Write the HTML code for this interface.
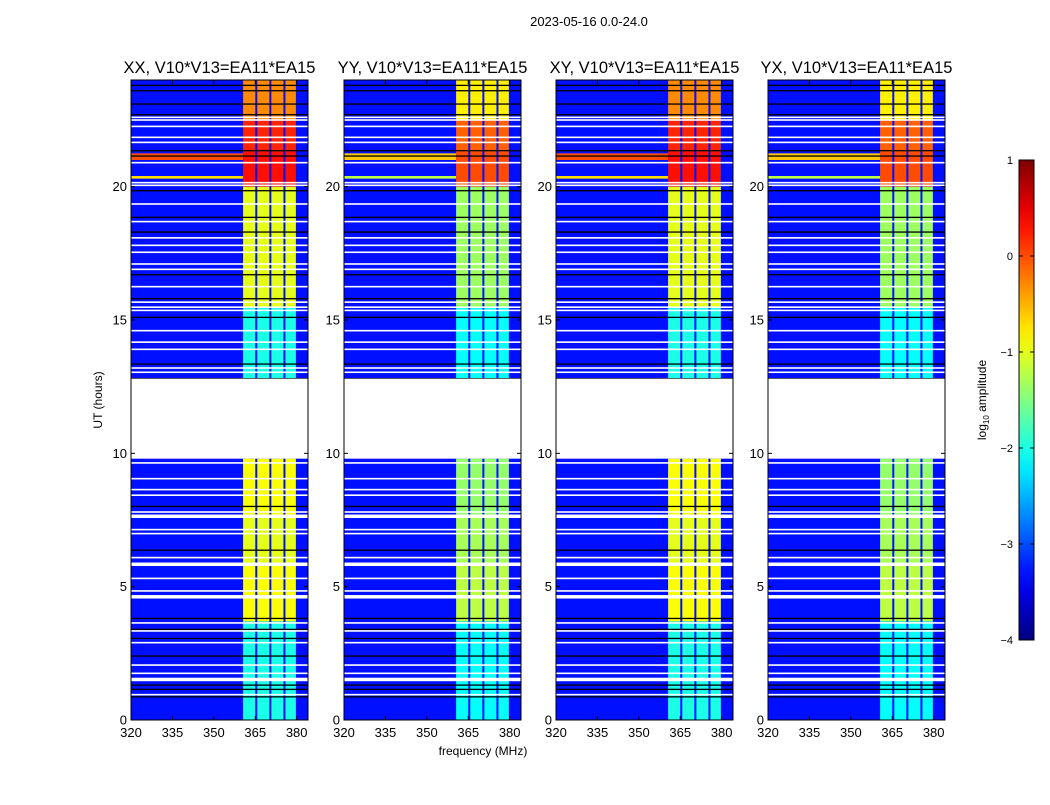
<!DOCTYPE html>
<html><head><meta charset="utf-8">
<style>
body{margin:0;background:#fff;}
svg text{font-family:"Liberation Sans","DejaVu Sans",sans-serif;fill:#000;}
</style></head>
<body>
<svg id="fig" width="1050" height="800" viewBox="0 0 1050 800" xmlns="http://www.w3.org/2000/svg">
<rect width="1050" height="800" fill="#fff"/>
<text x="589" y="26" font-size="13" text-anchor="middle">2023-05-16 0.0-24.0</text>
<text x="483" y="755" font-size="12" text-anchor="middle">frequency (MHz)</text>
<text transform="translate(102,400) rotate(-90)" font-size="12" text-anchor="middle">UT (hours)</text>
<g id="panels"></g>
<g id="cbar"></g>
</svg>
<script>
// ---- data ----
const panelTitles = ["XX, V10*V13=EA11*EA15","YY, V10*V13=EA11*EA15","XY, V10*V13=EA11*EA15","YX, V10*V13=EA11*EA15"];
const backgroundLevel = -3.3;
const subBandEdges = [360.6, 365.3, 370.4, 375.5, 380.0];
const blockStart = [0.0, 3.7, 5.9, 7.7, 12.8, 15.5, 20.0, 21.3, 22.5];
const blockEnd   = [3.7, 5.9, 7.7, 9.8, 15.5, 20.0, 21.3, 22.5, 24.0];
const levelsXX = [-2.0, -0.9, -1.0, -0.9, -2.0, -1.0, 0.3, 0.2, -0.3];
const levelsYY = [-2.1, -1.2, -1.3, -1.4, -2.1, -1.35, 0.0, -0.1, -0.8];
const levelsXY = [-2.0, -0.9, -1.0, -0.9, -2.0, -1.0, 0.3, 0.2, -0.3];
const levelsYX = [-2.1, -1.2, -1.3, -1.4, -2.1, -1.35, 0.0, -0.1, -0.8];
const panelLevels = [levelsXX, levelsYY, levelsXY, levelsYX];
const stripeStart = [21.0, 20.3];
const stripeEnd   = [21.25, 20.4];
const stripeLevelsXX = [0.0, -0.7];
const stripeLevelsYY = [-0.6, -1.2];
const stripeLevelsXY = [0.0, -0.7];
const stripeLevelsYX = [-0.6, -1.2];
const stripeLevels = [stripeLevelsXX, stripeLevelsYY, stripeLevelsXY, stripeLevelsYX];
const whiteLines = [0.95,1.52,1.75,2.06,2.9,3.34,3.64,4.62,4.84,5.31,5.84,6.09,6.99,7.14,7.64,7.8,8.43,8.64,9.05,9.64,
  13.04,13.2,13.9,14.17,14.6,15.36,15.48,15.67,16.25,16.9,17.1,17.54,17.8,18.08,18.69,19.35,20.05,20.15,20.9,21.66,21.85,22.26,22.5,22.6];
const thickWhite = [1.52,4.62,5.84,7.64,20.1];
const blackLines = [0.87,1.15,1.31,2.4,3.06,3.4,3.81,6.37,8.01,12.8,13.35,15.1,15.8,16.7,18.3,18.85,19.85,21.15,21.35,22.7,23.1,23.6,23.8];
const gapStart = 9.8, gapEnd = 12.8;
const xTicks = [320,335,350,365,380];
const yTicks = [0,5,10,15,20];
const cbarTicks = [1,0,-1,-2,-3,-4];
// ---- layout ----
const panelX = [131,344,556,768], panelW = 177, plotTop = 80, plotBottom = 720;
const fMin = 320, fMax = 384.1, tMin = 0, tMax = 24, vMin = -4, vMax = 1;
const NS = "http://www.w3.org/2000/svg";
function jet(v){
  let x = (v - vMin)/(vMax - vMin); x = Math.max(0, Math.min(1, x));
  const c = t => Math.round(255*Math.max(0, Math.min(1, t)));
  const r = c(Math.min(4*x-1.5, -4*x+4.5));
  const g = c(Math.min(4*x-0.5, -4*x+3.5));
  const b = c(Math.min(4*x+0.5, -4*x+2.5));
  return `rgb(${r},${g},${b})`;
}
function mk(tag, attrs, parent){const e=document.createElementNS(NS,tag);for(const k in attrs)e.setAttribute(k,attrs[k]);parent.appendChild(e);return e;}
const yOf = t => plotBottom - (t - tMin)/(tMax - tMin)*(plotBottom-plotTop);
const panelsG = document.getElementById('panels');
panelX.forEach((x0, p) => {
  const xOf = f => x0 + (f - fMin)/(fMax - fMin)*panelW;
  const g = mk('g', {}, panelsG);
  
  
  const bg = mk('rect', {x:x0, y:plotTop, width:panelW, height:plotBottom-plotTop, fill:jet(backgroundLevel)}, g);
  
  
  stripeStart.forEach((s, i) => {
    const r = mk('rect', {x:x0, y:yOf(stripeEnd[i]), width:xOf(subBandEdges[0])-x0, height:yOf(s)-yOf(stripeEnd[i]), fill:jet(stripeLevels[p][i])}, g);
    
    
  });
  blockStart.forEach((s, i) => {
    const lv = panelLevels[p][i];
    for (let k = 0; k < subBandEdges.length-1; k++) {
      const xa = xOf(subBandEdges[k]) + (k>0?1.2:0), xb = xOf(subBandEdges[k+1]) - 0.8;
      const r = mk('rect', {x:xa, y:yOf(blockEnd[i]), width:xb-xa, height:yOf(s)-yOf(blockEnd[i]), fill:jet(lv)}, g);
      
      
    }
  });
  blackLines.forEach(t => {
    const l = mk('rect', {x:x0, y:yOf(t)-0.6, width:panelW, height:1.3, fill:'#000'}, g);
    
    
  });
  whiteLines.forEach(t => {
    const h = thickWhite.includes(t) ? 3.5 : 1.6;
    const l = mk('rect', {x:x0, y:yOf(t)-h/2, width:panelW, height:h, fill:'#fff'}, g);
    
    
  });
  const gap = mk('rect', {x:x0, y:yOf(gapEnd), width:panelW, height:yOf(gapStart)-yOf(gapEnd), fill:'#fff'}, g);
  
  
  const fr = mk('rect', {x:x0, y:plotTop, width:panelW, height:plotBottom-plotTop, fill:'none', stroke:'#000', 'stroke-width':1}, g);
  
  
  const ttl = mk('text', {x:x0+panelW/2, y:plotTop-7, 'font-size':16.5, 'text-anchor':'middle'}, g);
  ttl.textContent = panelTitles[p];
  
  
  xTicks.forEach(f => {
    const x = xOf(f);
    mk('line', {x1:x, x2:x, y1:plotBottom, y2:plotBottom-4, stroke:'#000'}, g);
    mk('line', {x1:x, x2:x, y1:plotTop, y2:plotTop+4, stroke:'#000'}, g);
    const t = mk('text', {x:x, y:plotBottom+17, 'font-size':13, 'text-anchor':'middle'}, g);
    t.textContent = f;
    
    
  });
  yTicks.forEach(v => {
    const y = yOf(v);
    mk('line', {x1:x0, x2:x0+4, y1:y, y2:y, stroke:'#000'}, g);
    mk('line', {x1:x0+panelW, x2:x0+panelW-4, y1:y, y2:y, stroke:'#000'}, g);
    const t = mk('text', {x:x0-4, y:y+4.5, 'font-size':13, 'text-anchor':'end'}, g);
    t.textContent = v;
    
    
  });
});
// colorbar
const cb = document.getElementById('cbar');
const cbX = 1019, cbW = 15, cbTop = 160, cbBot = 640;
const defs = mk('defs', {}, cb);
const grad = mk('linearGradient', {id:'jetg', x1:0, y1:1, x2:0, y2:0}, defs);
for (let i = 0; i <= 20; i++) { const v = vMin + (vMax-vMin)*i/20; mk('stop', {offset:i/20, 'stop-color':jet(v)}, grad); }
const cbr = mk('rect', {x:cbX, y:cbTop, width:cbW, height:cbBot-cbTop, fill:'url(#jetg)', stroke:'#000', 'stroke-width':1}, cb);


const cyOf = v => cbBot - (v - vMin)/(vMax - vMin)*(cbBot-cbTop);
cbarTicks.forEach(v => {
  const y = cyOf(v);
  mk('line', {x1:cbX, x2:cbX+4, y1:y, y2:y, stroke:'#000'}, cb);
  mk('line', {x1:cbX+cbW, x2:cbX+cbW-4, y1:y, y2:y, stroke:'#000'}, cb);
  const t = mk('text', {x:cbX-6, y:y+4, 'font-size':11, 'text-anchor':'end'}, cb);
  t.textContent = v < 0 ? '\u2212' + (-v) : String(v);
  
  
});
const cl = mk('text', {transform:'translate(986,400) rotate(-90)', 'font-size':12, 'text-anchor':'middle'}, cb);
cl.innerHTML = 'log<tspan font-size="8" dy="3">10</tspan><tspan dy="-3"> amplitude</tspan>';


</script>
</body></html>
